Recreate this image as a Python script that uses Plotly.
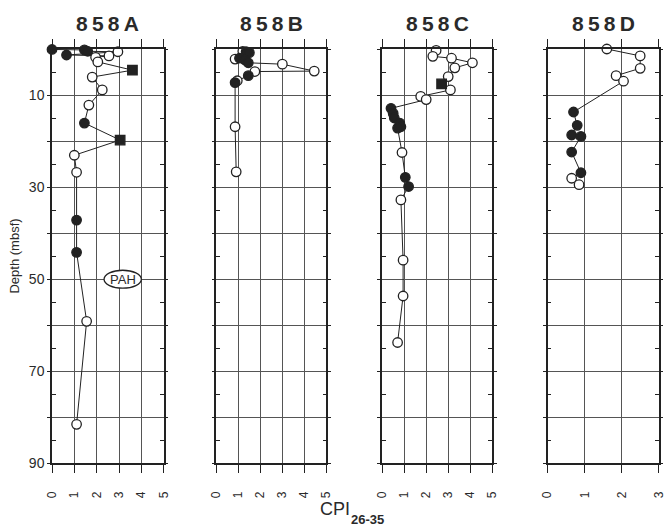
import plotly.graph_objects as go

# ---------------- data ----------------
panel_names = ["858A", "858B", "858C", "858D"]
x_max = [5, 5, 5, 3]

# kind: "o" = open circle, "f" = filled circle, "s" = filled square
a_depth = [0.1, 0.2, 0.5, 0.6, 1.3, 1.5, 1.8, 2.8, 4.6, 6.1, 8.9, 12.2, 16.1, 19.8, 23.1, 26.8, 37.2, 44.2, 59.2, 81.6]
a_cpi = [0.0, 1.45, 1.6, 2.95, 0.65, 2.55, 1.95, 2.05, 3.6, 1.8, 2.25, 1.65, 1.45, 3.05, 1.0, 1.1, 1.1, 1.1, 1.55, 1.1]
a_kind = ["f", "f", "f", "o", "f", "o", "o", "o", "s", "o", "o", "o", "f", "s", "o", "o", "f", "f", "o", "o"]

b_depth = [0.5, 0.6, 0.8, 2.0, 2.2, 2.4, 3.0, 3.3, 4.8, 4.9, 5.8, 6.9, 7.3, 16.9, 26.7]
b_cpi = [1.2, 1.35, 1.5, 1.05, 0.85, 1.3, 1.45, 3.0, 4.45, 1.75, 1.45, 0.95, 0.85, 0.85, 0.9]
b_kind = ["o", "f", "f", "f", "o", "f", "f", "o", "o", "o", "f", "o", "f", "o", "o"]

c_depth = [0.3, 1.6, 2.0, 3.0, 4.1, 6.0, 7.6, 8.9, 10.3, 11.0, 12.9, 14.0, 15.0, 16.1, 16.9, 17.2,
           22.5, 27.9, 29.9, 32.8, 45.9, 53.7, 63.8]
c_cpi = [2.45, 2.3, 3.15, 4.1, 3.3, 3.0, 2.7, 3.1, 1.75, 2.0, 0.4, 0.5, 0.55, 0.8, 0.85, 0.7,
         0.9, 1.05, 1.2, 0.85, 0.95, 0.95, 0.7]
c_kind = ["o", "o", "o", "o", "o", "o", "s", "o", "o", "o", "f", "f", "f", "f", "f", "f",
          "o", "f", "f", "o", "o", "o", "o"]

d_depth = [0.0, 1.5, 4.2, 5.8, 7.0, 13.7, 16.6, 18.7, 19.0, 22.4, 26.9, 28.1, 29.5]
d_cpi = [1.6, 2.5, 2.5, 1.85, 2.05, 0.7, 0.8, 0.65, 0.9, 0.65, 0.9, 0.65, 0.85]
d_kind = ["o", "o", "o", "o", "o", "f", "f", "f", "f", "f", "f", "o", "o"]

depth_ticks = [0, 10, 20, 30, 40, 50, 60, 70, 80, 90]
depth_labels = ["", "10", "", "30", "", "50", "", "70", "", "90"]

panels = [(a_depth, a_cpi, a_kind), (b_depth, b_cpi, b_kind),
          (c_depth, c_cpi, c_kind), (d_depth, d_cpi, d_kind)]

# ---------------- layout geometry ----------------
W, H = 670, 529
ML, MR, MT, MB = 52, 4, 49, 66
PW, PH = W - ML - MR, H - MT - MB
pix_domains = [(52, 165), (218.3, 329.5), (386, 497.3), (553.3, 665.7)]
domains = [((a - ML) / PW, (b - ML) / PW) for a, b in pix_domains]

INK = "#222222"
GRID = "#555555"
TXT = "#2a2a2a"
FONT = "Liberation Sans, Arial, sans-serif"

fig = go.Figure()

kind_style = {
    "o": dict(symbol="circle", color="white", size=9.5),
    "f": dict(symbol="circle", color=INK, size=9.5),
    "s": dict(symbol="square", color=INK, size=9.5),
}

for i, (dep, cpi, kind) in enumerate(panels):
    xa = "x" if i == 0 else f"x{i+1}"
    ya = "y" if i == 0 else f"y{i+1}"
    fig.add_trace(go.Scatter(x=cpi, y=dep, mode="lines", xaxis=xa, yaxis=ya,
                             line=dict(color=INK, width=1), hoverinfo="skip", showlegend=False))
    for k, st in kind_style.items():
        xs = [c for c, kk in zip(cpi, kind) if kk == k]
        ys = [d for d, kk in zip(dep, kind) if kk == k]
        if not xs:
            continue
        fig.add_trace(go.Scatter(x=xs, y=ys, mode="markers", xaxis=xa, yaxis=ya, showlegend=False,
                                 cliponaxis=False,
                                 marker=dict(symbol=st["symbol"], size=st["size"], color=st["color"],
                                             line=dict(color=INK, width=1.3))))

layout = dict(
    width=W, height=H,
    margin=dict(l=ML, r=MR, t=MT, b=MB),
    paper_bgcolor="white", plot_bgcolor="white",
    font=dict(family=FONT, color=TXT),
    showlegend=False,
)

for i in range(4):
    xkey = "xaxis" if i == 0 else f"xaxis{i+1}"
    ykey = "yaxis" if i == 0 else f"yaxis{i+1}"
    yref = "y" if i == 0 else f"y{i+1}"
    xref = "x" if i == 0 else f"x{i+1}"
    layout[xkey] = dict(
        domain=list(domains[i]), anchor=yref, range=[0, x_max[i]],
        tickmode="linear", tick0=0, dtick=1,
        showgrid=True, gridcolor=GRID, gridwidth=1,
        showline=True, linecolor=INK, linewidth=1.5, mirror="allticks",
        ticks="outside", ticklen=8, tickcolor=INK, tickwidth=1,
        tickangle=-90, tickfont=dict(size=12, color=TXT, family=FONT),
        ticklabelstandoff=14, zeroline=False, fixedrange=True,
    )
    layout[ykey] = dict(
        domain=[0, 1], anchor=xref, range=[90, 0],
        tickmode="array", tickvals=depth_ticks,
        ticktext=depth_labels if i == 0 else [""] * len(depth_ticks),
        showticklabels=(i == 0),
        showgrid=True, gridcolor=GRID, gridwidth=1.2,
        showline=True, linecolor=INK, linewidth=1.5, mirror="allticks",
        ticks="outside", ticklen=3, tickcolor=INK,
        minor=dict(tickvals=[5, 15, 25, 35, 45, 55, 65, 75, 85], ticks="inside",
                   ticklen=4, tickcolor=INK, showgrid=False),
        tickfont=dict(size=14, color=TXT, family=FONT),
        zeroline=False, fixedrange=True,
    )

layout["yaxis"]["title"] = dict(text="Depth (mbsf)", font=dict(size=13, color=TXT, family=FONT),
                                standoff=6)

fig.update_layout(**layout)

# panel titles
for i, name in enumerate(panel_names):
    cx = (domains[i][0] + domains[i][1]) / 2
    fig.add_annotation(text="<b>" + "\u2009".join(name) + "</b>", x=cx, y=1 + (MT - 24) / PH,
                       xref="paper", yref="paper", showarrow=False, xanchor="center", yanchor="middle",
                       font=dict(size=21, color=TXT, family=FONT))

# x axis title CPI_26-35
fig.add_annotation(text="CPI", x=(338 - ML) / PW, y=-(509 - (H - MB)) / PH, xref="paper", yref="paper",
                   showarrow=False, xanchor="center", yanchor="middle",
                   font=dict(size=18, color=TXT, family=FONT))
fig.add_annotation(text="<b>26-35</b>", x=(352 - ML) / PW, y=-(519 - (H - MB)) / PH, xref="paper", yref="paper",
                   showarrow=False, xanchor="left", yanchor="middle",
                   font=dict(size=13, color=TXT, family=FONT))

# PAH label in panel A
fig.add_shape(type="circle", xref="x", yref="y", x0=2.33, x1=4.0, y0=48.1, y1=52.0,
              line=dict(color=INK, width=1.3), fillcolor="white", layer="above")
fig.add_annotation(text="PAH", x=3.17, y=50.1, xref="x", yref="y", showarrow=False,
                   font=dict(size=13, color=TXT, family=FONT))

fig.write_html("out.html")
